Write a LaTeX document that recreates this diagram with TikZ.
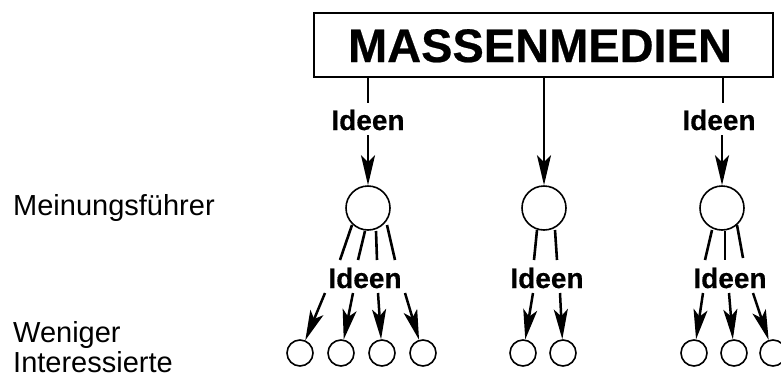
\documentclass[tikz,border=0pt]{standalone}
\usepackage{fontspec}
\setmainfont{Liberation Sans}
\newfontfamily\heavyfont[FakeBold=0.5]{Liberation Sans Bold}
\usetikzlibrary{arrows.meta}
\begin{document}
\begin{tikzpicture}[x=1pt,y=-1pt,
  flow/.style={line width=2.5pt,-{Stealth[length=30pt,width=14pt,inset=7pt]}},
  fan/.style={line width=2.6pt},
  leader/.style={circle,draw,line width=1.6pt,minimum size=44pt,inner sep=0pt},
  follower/.style={circle,draw,line width=1.6pt,minimum size=26pt,inner sep=0pt},
  idea/.style={font=\heavyfont\fontsize{28}{28}\selectfont,inner sep=0pt,anchor=base},
  rowlabel/.style={font=\fontsize{29}{30}\selectfont,inner sep=0pt,anchor=base west}]
\clip (0,0) rectangle (781,378);
\fill[white] (0,0) rectangle (781,378);

% media box
\node[draw,line width=1.4pt,minimum width=459pt,minimum height=64pt,inner sep=0pt] (media) at (543.5,45) {};
\node[font=\heavyfont\fontsize{47}{47}\selectfont,inner sep=0pt,anchor=base] (mtitle) at (540,62) {MASSENMEDIEN};

% opinion leaders
\node[leader] (lead1) at (368,208) {};
\node[leader] (lead2) at (544,208) {};
\node[leader] (lead3) at (722,208) {};

% upper labels
\node[idea] (ideaA) at (368,130) {Ideen};
\node[idea] (ideaB) at (719,130) {Ideen};

% lower labels
\node[idea] (ideaL) at (365,288) {Ideen};
\node[idea] (ideaM) at (547,288) {Ideen};
\node[idea] (ideaR) at (730,288) {Ideen};

% followers
\node[follower] (f1) at (300,353) {};
\node[follower] (f2) at (341,353) {};
\node[follower] (f3) at (382,353) {};
\node[follower] (f4) at (423,353) {};
\node[follower] (f5) at (523,353) {};
\node[follower] (f6) at (563,353) {};
\node[follower] (f7) at (694,353) {};
\node[follower] (f8) at (734,353) {};
\node[follower] (f9) at (773,353) {};

% row labels
\node[rowlabel] (lblLead) at (13,215) {Meinungsführer};
\node[rowlabel] (lblLess1) at (13,342) {Weniger};
\node[rowlabel] (lblLess2) at (13,372) {Interessierte};

% media to leaders
\draw[fan] (media.south -| lead1) -- (368,103);
\draw[flow] (368,135) -- (lead1);
\draw[flow] (media.south -| lead2) -- (lead2);
\draw[fan] (media.south -| 723,0) -- (723,103);
\draw[flow] (722,135) -- (lead3);

% fan lines below leaders
\coordinate (a1) at (340,260); \coordinate (a2) at (358,260);
\coordinate (a3) at (377,260); \coordinate (a4) at (395,260);
\draw[fan] (352,225) -- (a1);
\draw[fan] (365,231) -- (a2);
\draw[fan] (376,231) -- (a3);
\draw[fan] (387,225) -- (a4);
\coordinate (b1) at (534,260); \coordinate (b2) at (557,260);
\draw[fan] (537,230) -- (b1);
\draw[fan] (555,230) -- (b2);
\coordinate (c1) at (705,260); \coordinate (c2) at (725,260); \coordinate (c3) at (743,258);
\draw[fan] (712,230) -- (c1);
\draw[fan] (725,231) -- (c2);
\draw[fan] (737,225) -- (c3);

% arrows to followers
\draw[flow] (325,293) -- (f1);
\draw[flow] (353,293) -- (f2);
\draw[flow] (378,293) -- (f3);
\draw[flow] (405,293) -- (f4);
\draw[flow] (533,293) -- (f5);
\draw[flow] (560,293) -- (f6);
\draw[flow] (703,293) -- (f7);
\draw[flow] (729,293) -- (f8);
\draw[flow] (753,293) -- (f9);
\end{tikzpicture}
\end{document}
